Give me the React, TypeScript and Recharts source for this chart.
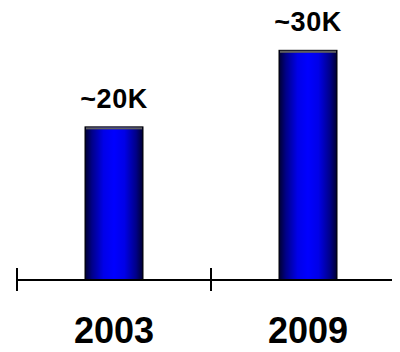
import React from "react";
import { BarChart, Bar, XAxis, YAxis, LabelList } from "recharts";

// Survey years and approximate counts (thousands)
const years = ["2003", "2009"];
const counts = [20, 30];
const countLabels = ["~20K", "~30K"];

const data = years.map((year, i) => ({ year, count: counts[i], label: countLabels[i] }));

const FONT = "'Liberation Sans', Arial, Helvetica, sans-serif";

// Cylinder-look bar: dark edges fading to bright blue in the middle, gray cap on top
const CylinderBar = (props: any) => {
  const { x, y, width, height } = props;
  if (!height || height <= 0) return null;
  return (
    <g>
      <rect x={x} y={y} width={width} height={height} fill="url(#barShade)" stroke="#000" strokeWidth={1} />
      <rect x={x + 1} y={y + 0.5} width={width - 2} height={2} fill="#5e5e5e" />
    </g>
  );
};

// Value label above each bar
const ValueLabel = (props: any) => {
  const { x, y, width, value } = props;
  return (
    <text
      x={x + width / 2}
      y={y - 19}
      textAnchor="middle"
      fontFamily={FONT}
      fontWeight="bold"
      fontSize={27}
      letterSpacing={0.5}
      fill="#000"
    >
      {value}
    </text>
  );
};

// Year label centred under the band, with a tick mark at the band's left boundary
const YearTick = (props: any) => {
  const { x, y, payload, width, visibleTicksCount } = props;
  const half =
    payload && typeof payload.offset === "number" && payload.offset > 0
      ? payload.offset
      : width / (2 * (visibleTicksCount || 1));
  return (
    <g>
      <line x1={x - half} x2={x - half} y1={y - 12} y2={y + 11} stroke="#000" strokeWidth={2} />
      <text
        x={x}
        y={y + 63}
        textAnchor="middle"
        fontFamily={FONT}
        fontWeight="bold"
        fontSize={36}
        fill="#000"
      >
        {payload.value}
      </text>
    </g>
  );
};

export default function App() {
  return (
    <div style={{ width: 392, height: 344, overflow: "hidden" }}>
      <BarChart
        width={400}
        height={344}
        data={data}
        margin={{ top: 27, right: 3, bottom: 12, left: 9 }}
      >
        <defs>
          <linearGradient id="barShade" x1="0" y1="0" x2="1" y2="0">
            <stop offset="0%" stopColor="#000030" />
            <stop offset="12%" stopColor="#000088" />
            <stop offset="32%" stopColor="#0000e8" />
            <stop offset="50%" stopColor="#0000ff" />
            <stop offset="68%" stopColor="#0000e8" />
            <stop offset="88%" stopColor="#000088" />
            <stop offset="100%" stopColor="#000030" />
          </linearGradient>
        </defs>
        <XAxis
          dataKey="year"
          height={60}
          axisLine={{ stroke: "#000", strokeWidth: 2 }}
          tickLine={false}
          tickSize={0}
          tickMargin={0}
          tick={<YearTick />}
          interval={0}
        />
        <YAxis hide domain={[0, 32]} />
        <Bar dataKey="count" barSize={58} shape={<CylinderBar />} isAnimationActive={false}>
          <LabelList dataKey="label" content={<ValueLabel />} />
        </Bar>
      </BarChart>
    </div>
  );
}
